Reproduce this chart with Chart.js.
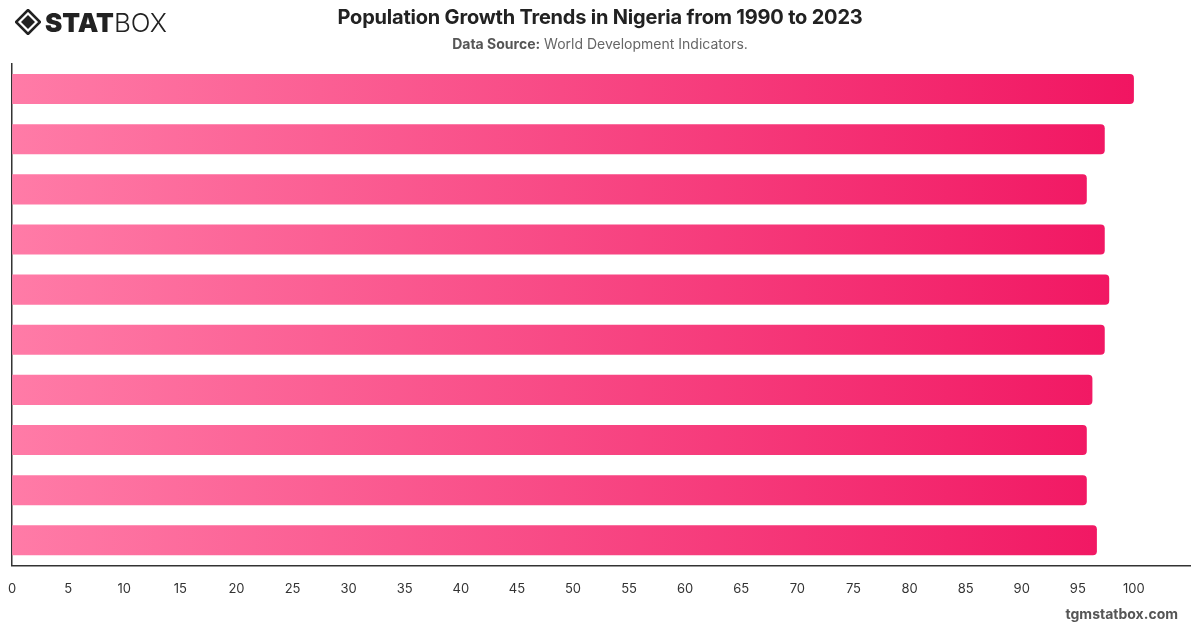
<!DOCTYPE html>
<html>
<head>
<meta charset="utf-8">
<script src="https://cdn.jsdelivr.net/npm/chart.js@4.4.1/dist/chart.umd.min.js"></script>
<style>
  html, body { margin: 0; padding: 0; background: #fff; }
  body { width: 1200px; height: 628px; position: relative; overflow: hidden; font-family: Inter, "Open Sans", sans-serif; }
  #wrap { position: absolute; left: 0; top: 0; width: 1200px; height: 628px; }
  #title { position: absolute; left: 0; width: 1200px; top: 5px; text-align: center; font-size: 20px; font-weight: 700; color: #222; letter-spacing: -0.2px; }
  #sub { position: absolute; left: 0; width: 1200px; top: 35px; text-align: center; font-size: 14px; color: #666; }
  #sub b { color: #555; }
  #logo { position: absolute; left: 15px; top: 7px; height: 30px; display: flex; align-items: center; }
  #logo .t1 { font-size: 26px; font-weight: 900; color: #222; letter-spacing: 0px; margin-left: 4px; }
  #logo .t2 { font-size: 26px; font-weight: 300; color: #222; }
  #foot { position: absolute; right: 22px; top: 605px; font-size: 14px; font-weight: 700; color: #555; }
</style>
</head>
<body>
<div id="wrap"><canvas id="c" width="1200" height="628"></canvas></div>
<div id="logo">
  <svg width="26" height="26" viewBox="0 0 26 26">
    <polygon points="13,1 25,13 13,25 1,13" fill="none" stroke="#222" stroke-width="2.6"/>
    <polygon points="13,6 20,13 13,20 6,13" fill="#222"/>
  </svg>
  <span class="t1">STAT</span><span class="t2">BOX</span>
</div>
<div id="title">Population Growth Trends in Nigeria from 1990 to 2023</div>
<div id="sub"><b>Data Source:</b> World Development Indicators.</div>
<div id="foot">tgmstatbox.com</div>
<script>
const categories = ["1990", "1994", "1998", "2002", "2006", "2010", "2014", "2018", "2022", "2023"];
const values = [100, 97.4, 95.8, 97.4, 97.8, 97.4, 96.3, 95.8, 95.8, 96.7];
const tickValues = [0, 5, 10, 15, 20, 25, 30, 35, 40, 45, 50, 55, 60, 65, 70, 75, 80, 85, 90, 95, 100];

function barGradient(context) {
  const chart = context.chart;
  const area = chart.chartArea;
  if (!area) return '#f5457f';
  const g = chart.ctx.createLinearGradient(area.left, 0, area.right, 0);
  g.addColorStop(0, '#ff7ba7');
  g.addColorStop(1, '#f0105e');
  return g;
}

new Chart(document.getElementById('c'), {
  type: 'bar',
  data: {
    labels: categories,
    datasets: [{
      data: values,
      backgroundColor: barGradient,
      borderRadius: 4,
      borderSkipped: 'start',
      barPercentage: 0.6,
      categoryPercentage: 1.0
    }]
  },
  options: {
    indexAxis: 'y',
    responsive: false,
    animation: false,
    layout: { padding: { top: 64, left: 3, right: 10, bottom: 23 } },
    plugins: { legend: { display: false }, tooltip: { enabled: false }, title: { display: false } },
    scales: {
      x: {
        min: 0, max: 105,
        grid: { display: false },
        border: { display: true, color: '#333', width: 1.5 },
        afterBuildTicks: (axis) => { axis.ticks = tickValues.map(v => ({ value: v })); },
        ticks: { color: '#333', font: { family: 'Inter', size: 13 }, padding: 8, maxRotation: 0 }
      },
      y: {
        grid: { display: false },
        border: { display: true, color: '#333', width: 1.5 },
        ticks: { display: false }
      }
    }
  }
});
</script>
</body>
</html>
